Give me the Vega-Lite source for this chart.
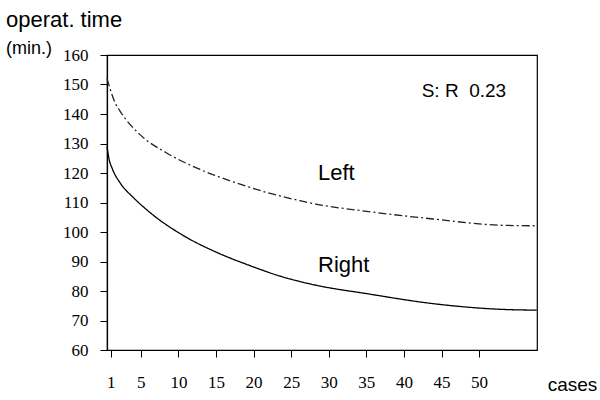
{
  "$schema": "https://vega.github.io/schema/vega-lite/v6.json",
  "width": 430,
  "height": 295,
  "autosize": {"type": "none"},
  "padding": {"left": 107, "top": 55, "right": 63, "bottom": 50},
  "background": "white",
  "title": {
    "text": "operat. time",
    "subtitle": "(min.)",
    "anchor": "start",
    "frame": "group",
    "dx": -101,
    "offset": -13,
    "font": "Liberation Sans",
    "fontSize": 22,
    "fontWeight": "normal",
    "color": "black",
    "subtitleFont": "Liberation Sans",
    "subtitleFontSize": 18,
    "subtitleColor": "black",
    "subtitlePadding": 8
  },
  "config": {
    "view": {"stroke": "black", "strokeWidth": 1.2},
    "axis": {
      "grid": false,
      "domainColor": "black",
      "domainWidth": 1.2,
      "tickColor": "black",
      "tickSize": 7,
      "labelColor": "black",
      "labelFont": "Liberation Serif",
      "labelFontSize": 17,
      "labelOverlap": false,
      "titleColor": "black"
    }
  },
  "datasets": {
    "lines": [
      {"case": 0.5, "time": 152.0, "side": "Left"},
      {"case": 1.6, "time": 143.7, "side": "Left"},
      {"case": 2.23, "time": 141.0, "side": "Left"},
      {"case": 4.89, "time": 133.0, "side": "Left"},
      {"case": 8.44, "time": 126.8, "side": "Left"},
      {"case": 12.87, "time": 121.2, "side": "Left"},
      {"case": 17.3, "time": 117.0, "side": "Left"},
      {"case": 21.75, "time": 113.4, "side": "Left"},
      {"case": 26.18, "time": 110.6, "side": "Left"},
      {"case": 28.4, "time": 109.4, "side": "Left"},
      {"case": 35.05, "time": 107.0, "side": "Left"},
      {"case": 43.91, "time": 104.4, "side": "Left"},
      {"case": 52.78, "time": 102.3, "side": "Left"},
      {"case": 57.66, "time": 102.1, "side": "Left"},
      {"case": 0.5, "time": 129.0, "side": "Right"},
      {"case": 0.75, "time": 125.0, "side": "Right"},
      {"case": 1.2, "time": 121.5, "side": "Right"},
      {"case": 2.23, "time": 116.7, "side": "Right"},
      {"case": 4.0, "time": 111.7, "side": "Right"},
      {"case": 6.22, "time": 106.6, "side": "Right"},
      {"case": 10.65, "time": 98.8, "side": "Right"},
      {"case": 15.09, "time": 93.1, "side": "Right"},
      {"case": 19.52, "time": 88.6, "side": "Right"},
      {"case": 23.96, "time": 84.7, "side": "Right"},
      {"case": 28.4, "time": 81.9, "side": "Right"},
      {"case": 35.05, "time": 79.1, "side": "Right"},
      {"case": 43.91, "time": 75.7, "side": "Right"},
      {"case": 52.78, "time": 73.8, "side": "Right"},
      {"case": 57.66, "time": 73.5, "side": "Right"}
    ],
    "notes": [
      {"case": 28.57, "time": 117.6, "label": "Left", "size": 22},
      {"case": 28.57, "time": 86.5, "label": "Right", "size": 22},
      {"case": 42.36, "time": 145.9, "label": "S: R \u00a00.23", "size": 19}
    ]
  },
  "layer": [
    {
      "data": {"name": "lines"},
      "mark": {"type": "line", "interpolate": "monotone", "strokeWidth": 1.3},
      "encoding": {
        "x": {
          "field": "case",
          "type": "quantitative",
          "scale": {"domain": [0.5, 57.7], "nice": false, "zero": false},
          "axis": {
            "values": [1, 5, 10, 15, 20, 25, 30, 35, 40, 45, 50],
            "labelFont": "Liberation Serif",
            "labelFlush": false,
            "labelOverlap": false,
            "labelPadding": 17,
            "title": "cases",
            "titleFont": "Liberation Sans",
            "titleFontSize": 19,
            "titleFontWeight": "normal",
            "titleAngle": 0,
            "titleAlign": "center",
            "titleBaseline": "alphabetic",
            "titleX": 465,
            "titleY": 40
          }
        },
        "y": {
          "field": "time",
          "type": "quantitative",
          "scale": {"domain": [60, 160], "nice": false, "zero": false},
          "axis": {
            "values": [60, 70, 80, 90, 100, 110, 120, 130, 140, 150, 160],
            "labelFont": "Liberation Serif",
            "labelFlush": false,
            "labelOverlap": false,
            "labelPadding": 12,
            "title": null
          }
        },
        "color": {
          "field": "side",
          "type": "nominal",
          "scale": {"domain": ["Left", "Right"], "range": ["#222222", "black"]},
          "legend": null
        },
        "strokeDash": {
          "field": "side",
          "type": "nominal",
          "scale": {"domain": ["Left", "Right"], "range": [[8, 3, 2, 3], [1, 0]]},
          "legend": null
        }
      }
    },
    {
      "data": {"name": "notes"},
      "mark": {"type": "text", "font": "Liberation Sans", "color": "black", "align": "left", "baseline": "alphabetic"},
      "encoding": {
        "x": {
          "field": "case",
          "type": "quantitative",
          "axis": {
            "values": [1, 5, 10, 15, 20, 25, 30, 35, 40, 45, 50],
            "labelFont": "Liberation Serif",
            "labelFlush": false,
            "labelOverlap": false,
            "labelPadding": 17,
            "title": "cases",
            "titleFont": "Liberation Sans",
            "titleFontSize": 19,
            "titleFontWeight": "normal",
            "titleAngle": 0,
            "titleAlign": "center",
            "titleBaseline": "alphabetic",
            "titleX": 465,
            "titleY": 40
          }
        },
        "y": {
          "field": "time",
          "type": "quantitative",
          "axis": {
            "values": [60, 70, 80, 90, 100, 110, 120, 130, 140, 150, 160],
            "labelFont": "Liberation Serif",
            "labelFlush": false,
            "labelOverlap": false,
            "labelPadding": 12,
            "title": null
          }
        },
        "text": {"field": "label"},
        "size": {"field": "size", "type": "quantitative", "scale": null}
      }
    }
  ]
}
